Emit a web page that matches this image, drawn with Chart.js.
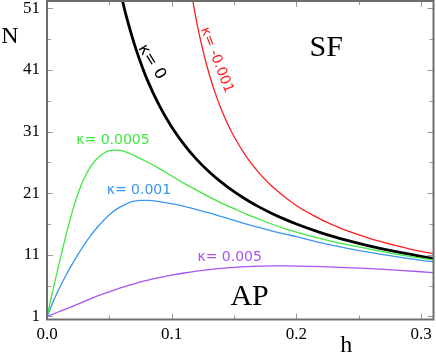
<!DOCTYPE html>
<html>
<head>
<meta charset="utf-8">
<script src="https://cdn.jsdelivr.net/npm/chart.js"></script>
<style>
  html, body { margin: 0; padding: 0; background: #fff; }
  #wrap { position: relative; width: 436px; height: 355px; }
</style>
</head>
<body>
<div id="wrap"><canvas id="chart"></canvas></div>
<script>
// kappa = 0
const hK0 = [0.058, 0.062, 0.066, 0.07, 0.075, 0.08, 0.09, 0.1, 0.11, 0.12, 0.13, 0.14, 0.15, 0.16, 0.17, 0.18, 0.19, 0.2, 0.22, 0.24, 0.26, 0.28, 0.3, 0.31];
const nK0 = [54.6, 51.0, 47.98, 45.25, 42.25, 39.6, 35.25, 31.75, 28.9, 26.5, 24.48, 22.75, 21.25, 19.94, 18.78, 17.75, 16.83, 16.0, 14.57, 13.38, 12.37, 11.5, 10.75, 10.41];

// kappa = -0.001
const hKm001 = [0.11, 0.114, 0.118, 0.122, 0.126, 0.13, 0.135, 0.14, 0.145, 0.15, 0.16, 0.17, 0.18, 0.19, 0.2, 0.21, 0.22, 0.23, 0.24, 0.26, 0.28, 0.3, 0.31];
const nKm001 = [62.2, 56.05, 51.0, 46.9, 43.4, 40.4, 37.2, 34.5, 32.2, 30.2, 26.9, 24.3, 22.2, 20.5, 19.0, 17.8, 16.7, 15.8, 14.95, 13.6, 12.5, 11.55, 11.2];

// kappa = 0.0005
const hK0005 = [0, 0.005, 0.01, 0.015, 0.02, 0.025, 0.03, 0.035, 0.04, 0.045, 0.05, 0.056, 0.062, 0.07, 0.08, 0.09, 0.1, 0.11, 0.12, 0.13, 0.14, 0.15, 0.16, 0.17, 0.18, 0.19, 0.2, 0.22, 0.24, 0.26, 0.28, 0.3, 0.31];
const nK0005 = [1, 5.5, 9.8, 14.0, 17.8, 21.0, 23.5, 25.3, 26.6, 27.4, 27.9, 28.0, 27.8, 27.1, 26.1, 25.0, 23.8, 22.6, 21.5, 20.4, 19.4, 18.5, 17.6, 16.8, 16.0, 15.3, 14.7, 13.6, 12.7, 11.9, 11.1, 10.45, 10.15];

// kappa = 0.001
const hK001 = [0, 0.005, 0.01, 0.015, 0.02, 0.025, 0.03, 0.035, 0.04, 0.045, 0.05, 0.055, 0.06, 0.065, 0.07, 0.075, 0.08, 0.09, 0.1, 0.11, 0.12, 0.13, 0.14, 0.15, 0.16, 0.17, 0.18, 0.19, 0.2, 0.22, 0.24, 0.26, 0.28, 0.3, 0.31];
const nK001 = [1, 3.4, 5.6, 7.6, 9.4, 11.1, 12.7, 14.1, 15.4, 16.5, 17.5, 18.3, 18.9, 19.4, 19.7, 19.85, 19.85, 19.65, 19.3, 18.85, 18.35, 17.8, 17.2, 16.6, 16.0, 15.45, 14.9, 14.4, 13.95, 12.95, 12.1, 11.35, 10.7, 10.1, 9.85];

// kappa = 0.005
const hK005 = [0, 0.01, 0.02, 0.03, 0.04, 0.05, 0.06, 0.07, 0.08, 0.09, 0.1, 0.11, 0.12, 0.13, 0.14, 0.15, 0.16, 0.17, 0.18, 0.19, 0.2, 0.22, 0.24, 0.26, 0.28, 0.3, 0.31];
const nK005 = [1, 1.8, 2.6, 3.45, 4.3, 5.0, 5.7, 6.3, 6.85, 7.3, 7.7, 8.05, 8.35, 8.6, 8.8, 8.95, 9.07, 9.15, 9.2, 9.2, 9.18, 9.08, 8.93, 8.75, 8.52, 8.25, 8.1];

// Achsen
const xTicks = [0, 0.05, 0.1, 0.15, 0.2, 0.25, 0.3];
const xTickLabels = ['0.0', '', '0.1', '', '0.2', '', '0.3'];
const yTicks = [1, 6, 11, 16, 21, 26, 31, 36, 41, 46, 51];
const yTickLabels = ['1', '', '11', '', '21', '', '31', '', '41', '', '51'];

const SERIF = '"Liberation Serif", "DejaVu Serif", serif';
const SANS = '"DejaVu Sans", Verdana, sans-serif';

function pairs(xs, ys) {
  return xs.map((x, i) => ({ x, y: ys[i] }));
}

function curve(label, xs, ys, color, width) {
  return {
    label,
    data: pairs(xs, ys),
    borderColor: color,
    borderWidth: width,
    showLine: true,
    pointRadius: 0,
    fill: false,
    cubicInterpolationMode: 'monotone'
  };
}

// Beschriftungen in Datenkoordinaten
const notes = [
  { text: 'SF', h: 0.224, n: 44.6, color: '#000', font: '30px ' + SERIF, rot: 0 },
  { text: 'AP', h: 0.1625, n: 4.15, color: '#000', font: '30px ' + SERIF, rot: 0 },
  { text: 'κ= 0.0005', h: 0.0529, n: 29.5, color: '#3ee83e', font: '14px ' + SANS, rot: 0 },
  { text: 'κ= 0.001', h: 0.0737, n: 21.5, color: '#3a96f0', font: '14px ' + SANS, rot: 0 },
  { text: 'κ= 0.005', h: 0.1465, n: 10.65, color: '#a855ee', font: '14px ' + SANS, rot: 0 },
  { text: 'κ= 0', h: 0.084, n: 42.3, color: '#000', font: '16px ' + SANS, rot: 58 },
  { text: 'κ= -0.001', h: 0.136, n: 42.6, color: '#ff2020', font: '14px ' + SANS, rot: 69 }
];

function noPadding(s) {
  s.paddingTop = 0; s.paddingBottom = 0; s.paddingLeft = 0; s.paddingRight = 0;
}

const framePlugin = {
  id: 'frame',
  afterDatasetsDraw(chart) {
    const { ctx, chartArea: a, scales: { x, y } } = chart;
    ctx.save();
    // Ticks innen, alle vier Seiten
    ctx.strokeStyle = '#9a9a9a';
    ctx.lineWidth = 1;
    ctx.beginPath();
    xTicks.forEach((v, i) => {
      const px = Math.round(x.getPixelForValue(v)) + 0.5;
      const len = xTickLabels[i] ? 6 : 4;
      ctx.moveTo(px, a.bottom); ctx.lineTo(px, a.bottom - len);
      ctx.moveTo(px, a.top); ctx.lineTo(px, a.top + len);
    });
    yTicks.forEach((v, i) => {
      const py = Math.round(y.getPixelForValue(v)) + 0.5;
      const len = yTickLabels[i] ? 6 : 4;
      ctx.moveTo(a.left, py); ctx.lineTo(a.left + len, py);
      ctx.moveTo(a.right, py); ctx.lineTo(a.right - len, py);
    });
    ctx.stroke();
    // Rahmen
    ctx.strokeStyle = '#6e6e6e';
    ctx.lineWidth = 2;
    ctx.strokeRect(a.left, a.top, a.right - a.left, a.bottom - a.top);

    // Kurvenbeschriftungen
    ctx.textAlign = 'center';
    ctx.textBaseline = 'middle';
    notes.forEach(nt => {
      ctx.save();
      ctx.translate(x.getPixelForValue(nt.h), y.getPixelForValue(nt.n));
      ctx.rotate(nt.rot * Math.PI / 180);
      ctx.fillStyle = nt.color;
      ctx.font = nt.font;
      ctx.fillText(nt.text, 0, 0);
      ctx.restore();
    });

    // Achsentitel
    ctx.fillStyle = '#000';
    ctx.font = '24px ' + SERIF;
    ctx.fillText('N', a.left - 37, a.top + 36);
    ctx.fillText('h', x.getPixelForValue(0.24), a.bottom + 26);
    ctx.restore();
  }
};

new Chart(document.getElementById('chart'), {
  type: 'scatter',
  data: {
    datasets: [
      curve('κ= -0.001', hKm001, nKm001, '#ff1e1e', 1.3),
      curve('κ= 0.0005', hK0005, nK0005, '#3ee83e', 1.3),
      curve('κ= 0.001', hK001, nK001, '#3a96f0', 1.3),
      curve('κ= 0.005', hK005, nK005, '#a855ee', 1.3),
      curve('κ= 0', hK0, nK0, '#000000', 2.8)
    ]
  },
  options: {
    responsive: true,
    maintainAspectRatio: false,
    animation: false,
    layout: { padding: { top: 1, right: 2.5, left: 0, bottom: 0 } },
    plugins: { legend: { display: false }, tooltip: { enabled: false } },
    scales: {
      x: {
        type: 'linear',
        min: 0,
        max: 0.31,
        afterBuildTicks: s => { s.ticks = xTicks.map(v => ({ value: v })); },
        afterFit: s => { s.height = 35.5; noPadding(s); },
        grid: { display: false, drawTicks: false },
        border: { display: false },
        ticks: {
          autoSkip: false,
          maxRotation: 0,
          padding: 5,
          color: '#000',
          font: { family: SERIF, size: 17 },
          callback: v => xTickLabels[xTicks.findIndex(t => Math.abs(t - v) < 1e-9)] || ''
        }
      },
      y: {
        type: 'linear',
        min: 0.5,
        max: 52.2,
        afterBuildTicks: s => { s.ticks = yTicks.map(v => ({ value: v })); },
        afterFit: s => { s.width = 47; noPadding(s); },
        grid: { display: false, drawTicks: false },
        border: { display: false },
        ticks: {
          autoSkip: false,
          padding: 7,
          color: '#000',
          font: { family: SERIF, size: 17 },
          callback: v => yTickLabels[yTicks.indexOf(v)] || ''
        }
      }
    }
  },
  plugins: [framePlugin]
});
</script>
</body>
</html>
